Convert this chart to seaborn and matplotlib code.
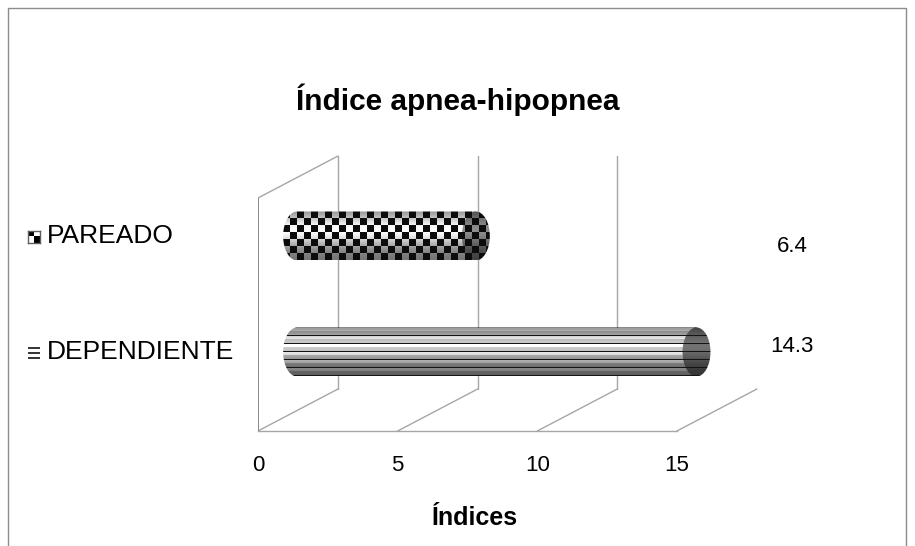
import numpy as np
import pandas as pd
import matplotlib
matplotlib.use("Agg")
import matplotlib.pyplot as plt
import matplotlib.transforms as mtransforms
from matplotlib.patches import Polygon, Ellipse, Rectangle
import seaborn as sns

# ---------------- data ----------------
categorias = ["PAREADO", "DEPENDIENTE"]
valores = [6.4, 14.3]
etiquetas_valor = ["6.4", "14.3"]
ticks_x = [0, 5, 10, 15]
titulo = "Índice apnea-hipopnea"
titulo_x = "Índices"

# ---------------- style ----------------
sns.set_style("white")
plt.rcParams["font.family"] = ["Liberation Sans", "DejaVu Sans"]
plt.rcParams["text.color"] = "black"
plt.rcParams["xtick.color"] = "black"
plt.rcParams["xtick.labelcolor"] = "black"

W, H = 915, 546
fig = plt.figure(figsize=(W / 100, H / 100), dpi=100)

PX_X = 27.93      # pixels per x unit
PX_Y = 116.0      # pixels per category unit
x_left_px, floor_px, top_px = 258, 431, 149
cat0_px = 236
y_floor = (floor_px - cat0_px) / PX_Y
y_top = (top_px - cat0_px) / PX_Y
xmax = 18.0
ax = fig.add_axes([x_left_px / W, (H - floor_px) / H,
                   xmax * PX_X / W, (floor_px - top_px) / H])

df = pd.DataFrame({"categoria": categorias, "valor": valores})
bar_left = 1.4
bar_h = 49 / PX_Y
sns.barplot(data=df, y="categoria", x="valor", order=categorias, orient="h",
            width=bar_h, left=bar_left, color="white", ax=ax, errorbar=None)

ax.set_xlim(0, xmax)
ax.set_ylim(y_floor, y_top)
ax.set_xlabel("")
ax.set_ylabel("")
ax.set_yticks([])
for s in ["top", "right", "left"]:
    ax.spines[s].set_visible(False)
ax.spines["bottom"].set_bounds(0, 15)
ax.spines["bottom"].set_color("#a6a6a6")
ax.spines["bottom"].set_linewidth(1.0)
ax.set_xticks(ticks_x)
ax.set_xticklabels([str(t) for t in ticks_x], fontsize=16, color="black")
ax.tick_params(axis="x", length=5, color="#a6a6a6", width=1.0, pad=12)

# 3D walls
dx = 80 / PX_X
dy = -42 / PX_Y
y_backfloor = y_floor + dy
y_backtop = (156 - cat0_px) / PX_Y
y_lefttop = (198 - cat0_px) / PX_Y
gc = "#a6a6a6"
for t in ticks_x:
    ax.plot([t, t + dx], [y_floor, y_backfloor], color=gc, lw=1.0, zorder=1)
for t in ticks_x[:-1]:
    ax.plot([t + dx, t + dx], [y_backfloor, y_backtop], color=gc, lw=1.0, zorder=1)
ax.plot([0, 0], [y_floor, y_lefttop], color="#808080", lw=1.3, zorder=1)
ax.plot([0, dx], [y_lefttop, y_backtop], color=gc, lw=1.0, zorder=1)

# cylinder bars built from seaborn's patches
def shade_rows(n):
    t = np.linspace(0, 1, n)
    return 0.45 + 0.55 * np.exp(-((t - 0.38) / 0.33) ** 2)

cap = 0.5
for i, p in enumerate(ax.patches[:len(valores)]):
    x0, y0, w, h = p.get_x(), p.get_y(), p.get_width(), p.get_height()
    p.set_facecolor("none"); p.set_edgecolor("none")
    x1 = x0 + w
    yc = y0 + h / 2
    npx_w = int(round((w + 2 * cap) * PX_X))
    npx_h = int(round(h * PX_Y))
    rows = np.arange(npx_h)[:, None]
    cols = np.arange(npx_w)[None, :]
    sh = shade_rows(npx_h)[:, None]
    ones = np.ones((1, npx_w))
    if i == 0:
        chk = ((rows // 7 + cols // 7) % 2)
        body = np.where(chk > 0, sh * ones, 0.05)
        capimg = np.where(chk > 0, 0.55 * sh * ones, 0.05)
    else:
        r = rows % 8
        base = np.where(r == 0, 0.08, np.where(r < 4, sh, sh * 0.8))
        body = base * ones
        capimg = np.where(r == 0, 0.08, 0.45 * sh) * ones
    th = np.linspace(np.pi / 2, 3 * np.pi / 2, 40)
    arc = np.column_stack([x0 + cap * np.cos(th), yc + (h / 2) * np.sin(th)])
    pts = np.vstack([[[x0, y0], [x1, y0], [x1, y0 + h], [x0, y0 + h]], arc])
    poly = Polygon(pts, closed=True, transform=ax.transData)
    ext = (x0 - cap, x1 + cap, y0 + h, y0)
    im = ax.imshow(body, cmap="gray", vmin=0, vmax=1, aspect="auto",
                   extent=ext, origin="upper", interpolation="nearest", zorder=3)
    im.set_clip_path(poly)
    ell = Ellipse((x1, yc), 2 * cap, h, transform=ax.transData)
    im2 = ax.imshow(capimg, cmap="gray", vmin=0, vmax=1, aspect="auto",
                    extent=ext, origin="upper", interpolation="nearest", zorder=4)
    im2.set_clip_path(ell)

ax.set_xlim(0, xmax)
ax.set_ylim(y_floor, y_top)

bt = mtransforms.blended_transform_factory(fig.transFigure, ax.transData)

# value labels at right
val_off = [(247 - 236) / PX_Y, (346 - 352) / PX_Y]
for i, (lab, off) in enumerate(zip(etiquetas_valor, val_off)):
    ax.text(792 / W, i + off, lab, fontsize=16, transform=bt,
            ha="center", va="center", clip_on=False)

# category labels with swatches
for i, c in enumerate(categorias):
    ax.text(47 / W, i, c, fontsize=19, ha="left", va="center", transform=bt,
            clip_on=False)
sw1 = fig.add_axes([28 / W, (H - 243) / H, 12 / W, 12 / H])
sw1.imshow([[0.0, 1.0], [1.0, 0.0]], cmap="gray", vmin=0, vmax=1,
           interpolation="nearest", aspect="auto")
sw1.set_xticks([]); sw1.set_yticks([])
for s in sw1.spines.values():
    s.set_color("#606060"); s.set_linewidth(1.0)
sw2 = fig.add_axes([28 / W, (H - 359) / H, 12 / W, 12 / H])
sw2.axis("off")
for yy in [0.12, 0.5, 0.88]:
    sw2.axhline(yy, color="#333333", lw=1.4)
sw2.set_ylim(0, 1)

# titles
fig.text(458 / W, 1 - 100 / H, titulo, fontsize=21.5, fontweight="bold",
         ha="center", va="center")
fig.text(475 / W, 1 - 518 / H, titulo_x, fontsize=18, fontweight="bold",
         ha="center", va="center")

# chart frame
fig.patches.append(Rectangle((8 / W, -0.1), (906 - 8) / W, 1 - 8 / H + 0.1,
                             transform=fig.transFigure, fill=False,
                             edgecolor="#8c8c8c", lw=1.0))

fig.savefig("out.png", dpi=100)
